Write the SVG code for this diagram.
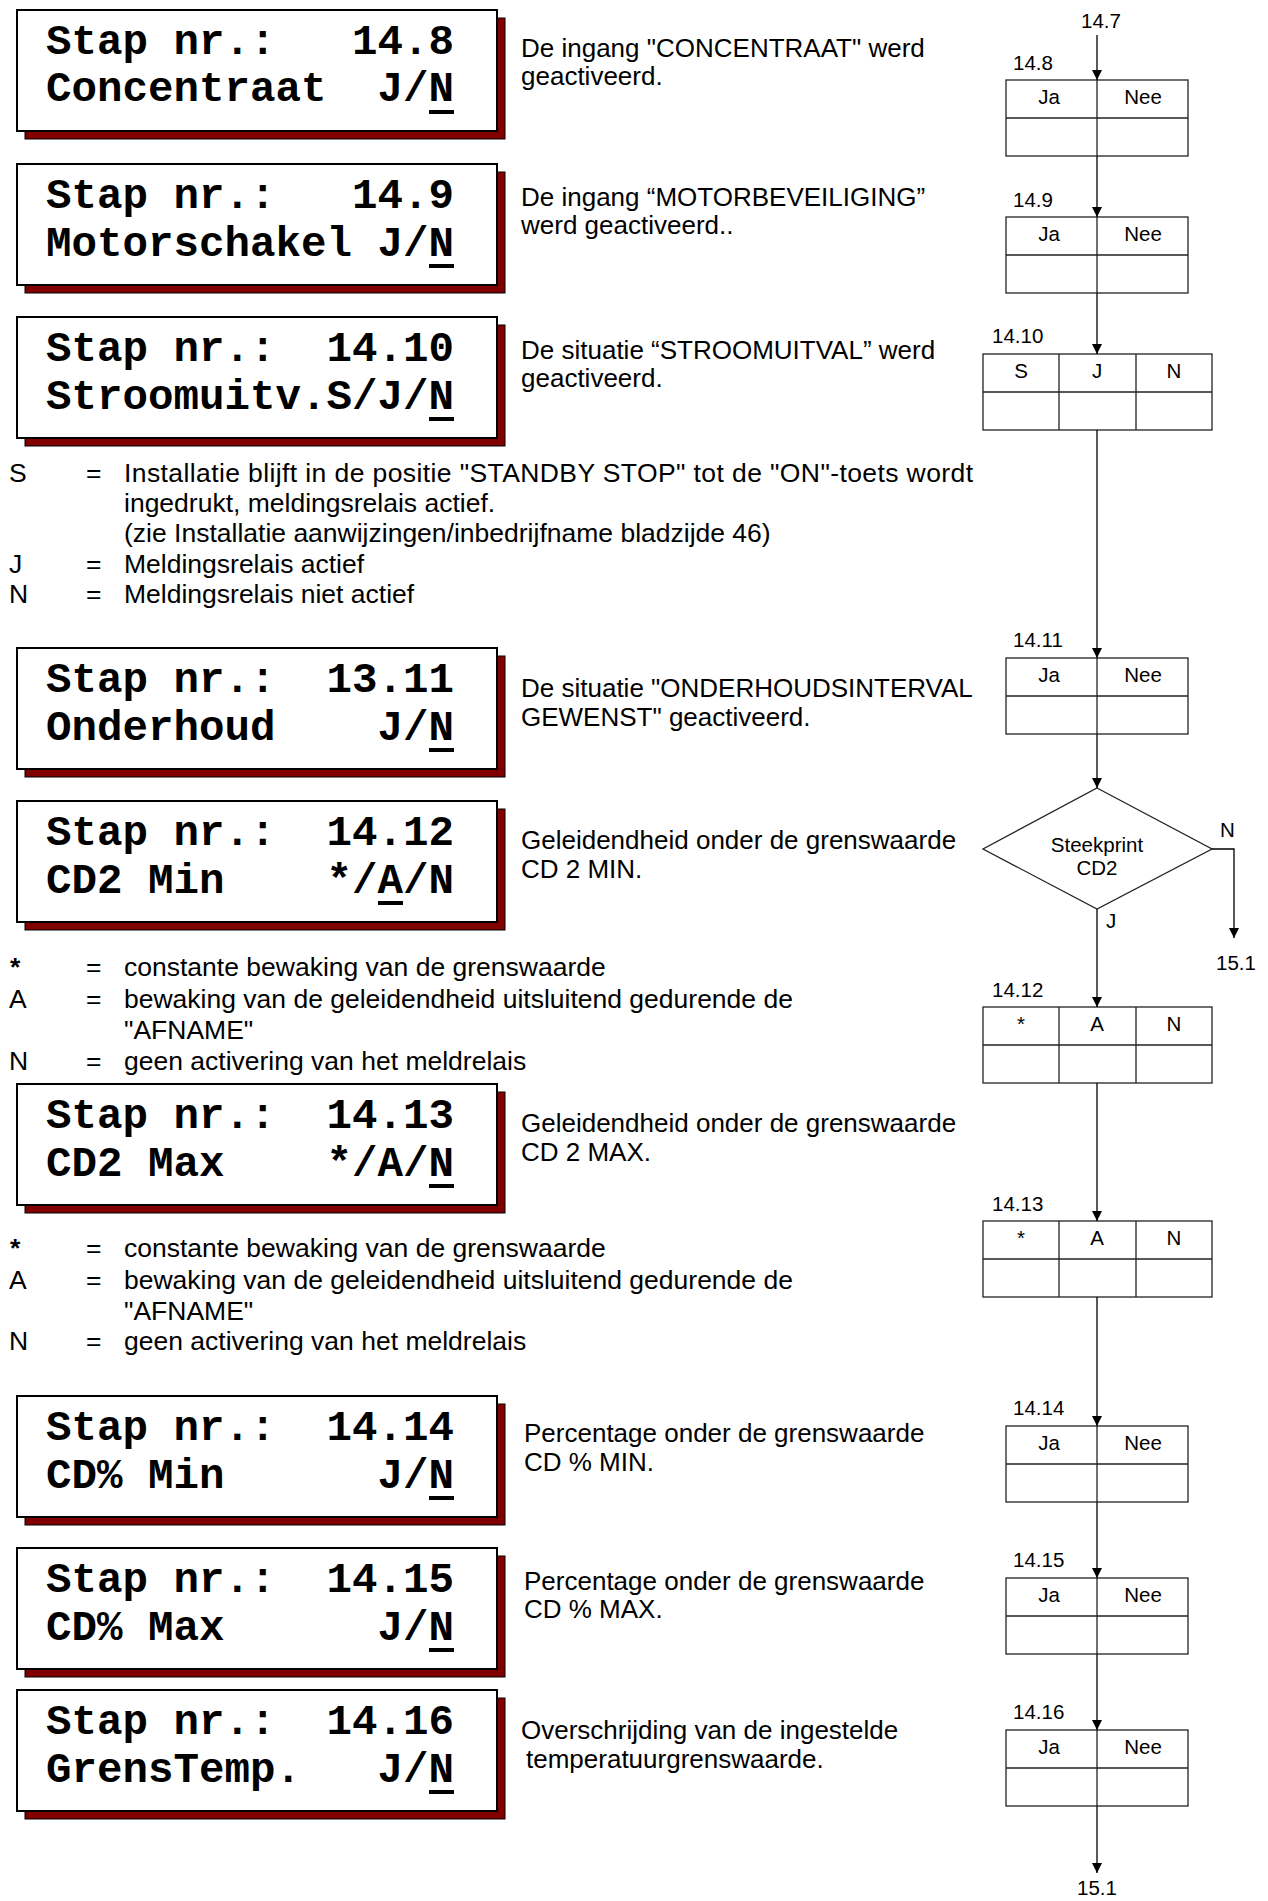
<svg xmlns="http://www.w3.org/2000/svg" width="1268" height="1901" viewBox="0 0 1268 1901">
<defs>
<style>
.shadow{fill:#800000;stroke:#000;stroke-width:1}
.panel{fill:#fff;stroke:#000;stroke-width:2}
.lcd{font-family:"Liberation Mono","Courier New",monospace;font-weight:bold;font-size:42.5px;fill:#000}
.ul{fill:#000}
.desc{font-family:"Liberation Sans",Arial,Helvetica,sans-serif;font-size:26px;fill:#000}
.leg{font-family:"Liberation Sans",Arial,Helvetica,sans-serif;font-size:26.5px;fill:#000}
.fc{font-family:"Liberation Sans",Arial,Helvetica,sans-serif;font-size:20.5px;fill:#000}
.fcm{font-family:"Liberation Sans",Arial,Helvetica,sans-serif;font-size:20.5px;fill:#000;text-anchor:middle}
.cell{fill:#fff;stroke:#222;stroke-width:1.3}
.div{stroke:#222;stroke-width:1.3;fill:none}
.conn{stroke:#000;stroke-width:1.3;fill:none;marker-end:url(#ah)}
</style>
<marker id="ah" markerUnits="userSpaceOnUse" markerWidth="10" markerHeight="10" refX="10" refY="5" orient="auto">
<path d="M0,0 L10,5 L0,10 Z" fill="#000"/>
</marker>
</defs>
<rect width="1268" height="1901" fill="#fff"/>

<!-- LCD panels -->
<g id="lcd-14-8">
<rect class="shadow" x="25" y="18" width="480" height="121"/>
<rect class="panel" x="17" y="10" width="480" height="121"/>
<text class="lcd" x="46" y="54" xml:space="preserve">Stap nr.:   14.8</text>
<text class="lcd" x="46" y="101" xml:space="preserve">Concentraat  J/N</text>
<rect class="ul" x="429" y="110" width="25" height="4"/>
</g>
<g id="lcd-14-9">
<rect class="shadow" x="25" y="172" width="480" height="121"/>
<rect class="panel" x="17" y="164" width="480" height="121"/>
<text class="lcd" x="46" y="208" xml:space="preserve">Stap nr.:   14.9</text>
<text class="lcd" x="46" y="256" xml:space="preserve">Motorschakel J/N</text>
<rect class="ul" x="429" y="264" width="25" height="4"/>
</g>
<g id="lcd-14-10">
<rect class="shadow" x="25" y="325" width="480" height="121"/>
<rect class="panel" x="17" y="317" width="480" height="121"/>
<text class="lcd" x="46" y="361" xml:space="preserve">Stap nr.:  14.10</text>
<text class="lcd" x="46" y="409" xml:space="preserve">Stroomuitv.S/J/N</text>
<rect class="ul" x="429" y="417" width="25" height="4"/>
</g>
<g id="lcd-13-11">
<rect class="shadow" x="25" y="656" width="480" height="121"/>
<rect class="panel" x="17" y="648" width="480" height="121"/>
<text class="lcd" x="46" y="692" xml:space="preserve">Stap nr.:  13.11</text>
<text class="lcd" x="46" y="740" xml:space="preserve">Onderhoud    J/N</text>
<rect class="ul" x="429" y="748" width="25" height="4"/>
</g>
<g id="lcd-14-12">
<rect class="shadow" x="25" y="809" width="480" height="121"/>
<rect class="panel" x="17" y="801" width="480" height="121"/>
<text class="lcd" x="46" y="845" xml:space="preserve">Stap nr.:  14.12</text>
<text class="lcd" x="46" y="893" xml:space="preserve">CD2 Min    */A/N</text>
<rect class="ul" x="378" y="901" width="25" height="4"/>
</g>
<g id="lcd-14-13">
<rect class="shadow" x="25" y="1092" width="480" height="121"/>
<rect class="panel" x="17" y="1084" width="480" height="121"/>
<text class="lcd" x="46" y="1128" xml:space="preserve">Stap nr.:  14.13</text>
<text class="lcd" x="46" y="1176" xml:space="preserve">CD2 Max    */A/N</text>
<rect class="ul" x="429" y="1184" width="25" height="4"/>
</g>
<g id="lcd-14-14">
<rect class="shadow" x="25" y="1404" width="480" height="121"/>
<rect class="panel" x="17" y="1396" width="480" height="121"/>
<text class="lcd" x="46" y="1440" xml:space="preserve">Stap nr.:  14.14</text>
<text class="lcd" x="46" y="1488" xml:space="preserve">CD% Min      J/N</text>
<rect class="ul" x="429" y="1496" width="25" height="4"/>
</g>
<g id="lcd-14-15">
<rect class="shadow" x="25" y="1556" width="480" height="121"/>
<rect class="panel" x="17" y="1548" width="480" height="121"/>
<text class="lcd" x="46" y="1592" xml:space="preserve">Stap nr.:  14.15</text>
<text class="lcd" x="46" y="1640" xml:space="preserve">CD% Max      J/N</text>
<rect class="ul" x="429" y="1648" width="25" height="4"/>
</g>
<g id="lcd-14-16">
<rect class="shadow" x="25" y="1698" width="480" height="121"/>
<rect class="panel" x="17" y="1690" width="480" height="121"/>
<text class="lcd" x="46" y="1734" xml:space="preserve">Stap nr.:  14.16</text>
<text class="lcd" x="46" y="1782" xml:space="preserve">GrensTemp.   J/N</text>
<rect class="ul" x="429" y="1790" width="25" height="4"/>
</g>

<!-- Descriptions -->
<g id="descriptions">
<text class="desc" x="521" y="57">De ingang "CONCENTRAAT" werd</text>
<text class="desc" x="521" y="85">geactiveerd.</text>
<text class="desc" x="521" y="206">De ingang “MOTORBEVEILIGING”</text>
<text class="desc" x="521" y="234">werd geactiveerd..</text>
<text class="desc" x="521" y="359">De situatie “STROOMUITVAL” werd</text>
<text class="desc" x="521" y="387">geactiveerd.</text>
<text class="desc" x="521" y="697">De situatie "ONDERHOUDSINTERVAL</text>
<text class="desc" x="521" y="726">GEWENST" geactiveerd.</text>
<text class="desc" x="521" y="849">Geleidendheid onder de grenswaarde</text>
<text class="desc" x="521" y="878">CD 2 MIN.</text>
<text class="desc" x="521" y="1132">Geleidendheid onder de grenswaarde</text>
<text class="desc" x="521" y="1161">CD 2 MAX.</text>
<text class="desc" x="524" y="1442">Percentage onder de grenswaarde</text>
<text class="desc" x="524" y="1471">CD % MIN.</text>
<text class="desc" x="524" y="1590">Percentage onder de grenswaarde</text>
<text class="desc" x="524" y="1618">CD % MAX.</text>
<text class="desc" x="521" y="1739">Overschrijding van de ingestelde</text>
<text class="desc" x="526" y="1768">temperatuurgrenswaarde.</text>
</g>

<!-- Legends -->
<g id="legend-stroomuitval">
<text class="leg" x="9" y="482">S</text><text class="leg" x="86" y="482">=</text>
<text class="leg" x="124" y="482" textLength="849" lengthAdjust="spacing">Installatie blijft in de positie "STANDBY STOP" tot de "ON"-toets wordt</text>
<text class="leg" x="124" y="512">ingedrukt, meldingsrelais actief.</text>
<text class="leg" x="124" y="542">(zie Installatie aanwijzingen/inbedrijfname bladzijde 46)</text>
<text class="leg" x="9" y="573">J</text><text class="leg" x="86" y="573">=</text>
<text class="leg" x="124" y="573">Meldingsrelais actief</text>
<text class="leg" x="9" y="603">N</text><text class="leg" x="86" y="603">=</text>
<text class="leg" x="124" y="603">Meldingsrelais niet actief</text>
</g>
<g id="legend-cd2min">
<text class="leg" x="10" y="976" font-weight="bold">*</text><text class="leg" x="86" y="976">=</text>
<text class="leg" x="124" y="976">constante bewaking van de grenswaarde</text>
<text class="leg" x="9" y="1008">A</text><text class="leg" x="86" y="1008">=</text>
<text class="leg" x="124" y="1008">bewaking van de geleidendheid uitsluitend gedurende de</text>
<text class="leg" x="124" y="1039">"AFNAME"</text>
<text class="leg" x="9" y="1070">N</text><text class="leg" x="86" y="1070">=</text>
<text class="leg" x="124" y="1070">geen activering van het meldrelais</text>
</g>
<g id="legend-cd2max">
<text class="leg" x="10" y="1257" font-weight="bold">*</text><text class="leg" x="86" y="1257">=</text>
<text class="leg" x="124" y="1257">constante bewaking van de grenswaarde</text>
<text class="leg" x="9" y="1289">A</text><text class="leg" x="86" y="1289">=</text>
<text class="leg" x="124" y="1289">bewaking van de geleidendheid uitsluitend gedurende de</text>
<text class="leg" x="124" y="1320">"AFNAME"</text>
<text class="leg" x="9" y="1350">N</text><text class="leg" x="86" y="1350">=</text>
<text class="leg" x="124" y="1350">geen activering van het meldrelais</text>
</g>

<!-- Flowchart nodes -->
<g id="fc-start"><text class="fcm" x="1101" y="28">14.7</text></g>
<g id="fc-14-8">
<text class="fc" x="1013" y="70">14.8</text>
<rect class="cell" x="1006" y="80" width="182" height="76"/>
<path class="div" d="M1006,118H1188M1097,80V156"/>
<text class="fcm" x="1049" y="104">Ja</text><text class="fcm" x="1143" y="104">Nee</text>
</g>
<g id="fc-14-9">
<text class="fc" x="1013" y="207">14.9</text>
<rect class="cell" x="1006" y="217" width="182" height="76"/>
<path class="div" d="M1006,255H1188M1097,217V293"/>
<text class="fcm" x="1049" y="241">Ja</text><text class="fcm" x="1143" y="241">Nee</text>
</g>
<g id="fc-14-10">
<text class="fc" x="992" y="343">14.10</text>
<rect class="cell" x="983" y="354" width="229" height="76"/>
<path class="div" d="M983,392H1212M1059,354V430M1136,354V430"/>
<text class="fcm" x="1021" y="378">S</text><text class="fcm" x="1097" y="378">J</text><text class="fcm" x="1174" y="378">N</text>
</g>
<g id="fc-14-11">
<text class="fc" x="1013" y="647">14.11</text>
<rect class="cell" x="1006" y="658" width="182" height="76"/>
<path class="div" d="M1006,696H1188M1097,658V734"/>
<text class="fcm" x="1049" y="682">Ja</text><text class="fcm" x="1143" y="682">Nee</text>
</g>
<g id="fc-cd2">
<polygon class="cell" points="1097,788 1212,849 1097,909 983,849"/>
<text class="fcm" x="1097" y="852">Steekprint</text>
<text class="fcm" x="1097" y="875">CD2</text>
</g>
<g id="fc-14-12">
<text class="fc" x="992" y="997">14.12</text>
<rect class="cell" x="983" y="1007" width="229" height="76"/>
<path class="div" d="M983,1045H1212M1059,1007V1083M1136,1007V1083"/>
<text class="fcm" x="1021" y="1031">*</text><text class="fcm" x="1097" y="1031">A</text><text class="fcm" x="1174" y="1031">N</text>
</g>
<g id="fc-14-13">
<text class="fc" x="992" y="1211">14.13</text>
<rect class="cell" x="983" y="1221" width="229" height="76"/>
<path class="div" d="M983,1259H1212M1059,1221V1297M1136,1221V1297"/>
<text class="fcm" x="1021" y="1245">*</text><text class="fcm" x="1097" y="1245">A</text><text class="fcm" x="1174" y="1245">N</text>
</g>
<g id="fc-14-14">
<text class="fc" x="1013" y="1415">14.14</text>
<rect class="cell" x="1006" y="1426" width="182" height="76"/>
<path class="div" d="M1006,1464H1188M1097,1426V1502"/>
<text class="fcm" x="1049" y="1450">Ja</text><text class="fcm" x="1143" y="1450">Nee</text>
</g>
<g id="fc-14-15">
<text class="fc" x="1013" y="1567">14.15</text>
<rect class="cell" x="1006" y="1578" width="182" height="76"/>
<path class="div" d="M1006,1616H1188M1097,1578V1654"/>
<text class="fcm" x="1049" y="1602">Ja</text><text class="fcm" x="1143" y="1602">Nee</text>
</g>
<g id="fc-14-16">
<text class="fc" x="1013" y="1719">14.16</text>
<rect class="cell" x="1006" y="1730" width="182" height="76"/>
<path class="div" d="M1006,1768H1188M1097,1730V1806"/>
<text class="fcm" x="1049" y="1754">Ja</text><text class="fcm" x="1143" y="1754">Nee</text>
</g>
<g id="fc-end-n"><text class="fcm" x="1236" y="970">15.1</text></g>
<g id="fc-end"><text class="fcm" x="1097" y="1895">15.1</text></g>

<!-- Connectors -->
<g id="connectors">
<path class="conn" d="M1097,35V80"/>
<path class="conn" d="M1097,156V217"/>
<path class="conn" d="M1097,293V354"/>
<path class="conn" d="M1097,430V658"/>
<path class="conn" d="M1097,734V788"/>
<path class="conn" d="M1212,849H1234V938"/>
<path class="conn" d="M1097,909V1007"/>
<path class="conn" d="M1097,1083V1221"/>
<path class="conn" d="M1097,1297V1426"/>
<path class="conn" d="M1097,1502V1578"/>
<path class="conn" d="M1097,1654V1730"/>
<path class="conn" d="M1097,1806V1873"/>
<text class="fc" x="1220" y="837">N</text>
<text class="fc" x="1106" y="928">J</text>
</g>
</svg>
